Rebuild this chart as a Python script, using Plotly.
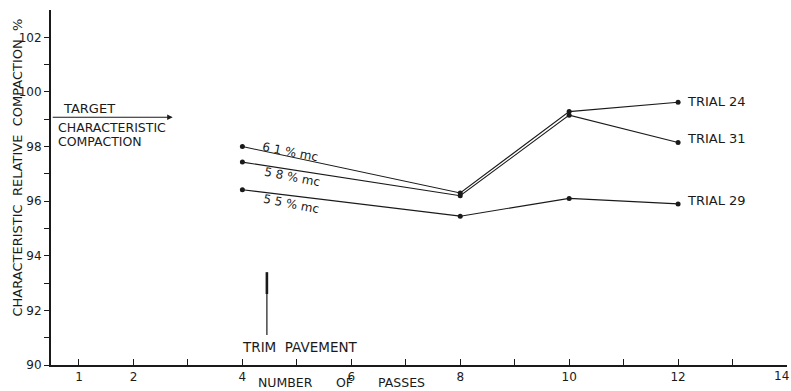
import plotly.graph_objects as go

passes = [4, 8, 10, 12]
trial_24 = [98.0, 96.3, 99.28, 99.62]
trial_31 = [97.43, 96.2, 99.15, 98.15]
trial_29 = [96.42, 95.45, 96.1, 95.9]

series = [("TRIAL 24", trial_24), ("TRIAL 31", trial_31), ("TRIAL 29", trial_29)]
mc_labels = ["6 1 % mc", "5 8 % mc", "5 5 % mc"]

x_tickvals = list(range(1, 15))
x_ticktext = ["1", "2", "", "4", "", "6", "", "8", "", "10", "", "12", "", "14"]
y_tickvals = list(range(90, 103))
y_ticktext = ["90", "", "92", "", "94", "", "96", "", "98", "", "100", "", "102"]

target_value = 99.07

INK = "#1a1a1a"
FONT = "DejaVu Sans"

# plot area in pixels (for paper-positioned texts)
L, R, T, B = 51, 4, 10, 26
W, H = 791, 391
PW, PH = W - L - R, H - T - B


def px(xp):
    return (xp - L) / PW


def py(yp):
    return (H - B - yp) / PH


fig = go.Figure()
for name, vals in series:
    fig.add_trace(go.Scatter(
        x=passes, y=vals, mode="lines+markers", name=name,
        line=dict(color=INK, width=1.1),
        marker=dict(color=INK, size=5),
        showlegend=False,
    ))

annotations = []
# the last x tick label sits flush with the right edge: draw it right-anchored
last_label = x_ticktext[-1]
shown_ticktext = x_ticktext[:-1] + [""]
annotations.append(dict(x=x_tickvals[-1], y=py(376), xref="x", yref="paper",
                        text=last_label, showarrow=False, xanchor="right", yanchor="middle",
                        xshift=4, font=dict(family=FONT, size=12, color=INK)))

# trial labels at the right end
trial_label_y = [99.65, 98.3, 96.03]
for (name, vals), ly in zip(series, trial_label_y):
    annotations.append(dict(x=12.13, y=ly, xref="x", yref="y", text=name,
                            showarrow=False, xanchor="left", yanchor="middle",
                            font=dict(family=FONT, size=13, color=INK)))
# moisture content labels along lines
mc_pos = [(4.875, 97.79), (4.91, 96.87), (4.89, 95.89)]
for lab, (mx, my) in zip(mc_labels, mc_pos):
    annotations.append(dict(x=mx, y=my, xref="x", yref="y", text=lab,
                            showarrow=False, textangle=11,
                            font=dict(family=FONT, size=12, color=INK)))
# target arrow
annotations.append(dict(x=2.72, y=target_value, ax=0.49, ay=target_value,
                        xref="x", yref="y", axref="x", ayref="y",
                        text="", showarrow=True, arrowhead=2, arrowsize=1,
                        arrowwidth=1.1, arrowcolor=INK))
annotations.append(dict(x=px(61), y=py(109), xref="paper", yref="paper", text="TARGET",
                        showarrow=False, xanchor="left", yanchor="middle",
                        font=dict(family=FONT, size=13, color=INK)))
annotations.append(dict(x=px(56), y=py(127), xref="paper", yref="paper",
                        text="CHARACTERISTIC",
                        showarrow=False, xanchor="left", yanchor="middle",
                        font=dict(family=FONT, size=12.5, color=INK)))
annotations.append(dict(x=px(56), y=py(142), xref="paper", yref="paper",
                        text="COMPACTION",
                        showarrow=False, xanchor="left", yanchor="middle",
                        font=dict(family=FONT, size=12.5, color=INK)))
# trim pavement
annotations.append(dict(x=px(240), y=py(347), xref="paper", yref="paper",
                        text="TRIM &nbsp;PAVEMENT",
                        showarrow=False, xanchor="left", yanchor="middle",
                        font=dict(family=FONT, size=13.5, color=INK)))
# x axis title (three spaced words as in the original)
for word, xp in [("NUMBER", 256), ("OF", 334), ("PASSES", 376)]:
    annotations.append(dict(x=px(xp), y=py(382.5), xref="paper", yref="paper",
                            text=word, showarrow=False, xanchor="left", yanchor="middle",
                            font=dict(family=FONT, size=12.5, color=INK)))
# y axis title
annotations.append(dict(x=px(17), y=py(167.5), xref="paper", yref="paper",
                        text="CHARACTERISTIC &nbsp;RELATIVE &nbsp;COMPACTION &nbsp;%",
                        showarrow=False, textangle=-90, xanchor="center", yanchor="middle",
                        font=dict(family=FONT, size=13, color=INK)))

shapes = [
    dict(type="line", xref="x", yref="y", x0=4.45, x1=4.45, y0=93.4, y1=92.6,
         line=dict(color=INK, width=2.6)),
    dict(type="line", xref="x", yref="y", x0=4.45, x1=4.45, y0=92.7, y1=91.1,
         line=dict(color=INK, width=1.2)),
]

fig.update_layout(
    width=W, height=H, autosize=False,
    margin=dict(l=L, r=R, t=T, b=B, autoexpand=False),
    paper_bgcolor="white", plot_bgcolor="white",
    annotations=annotations, shapes=shapes,
    font=dict(family=FONT, size=12, color=INK),
)
fig.update_xaxes(range=[0.486, 14.0], tickvals=x_tickvals, ticktext=shown_ticktext,
                 ticks="inside", ticklen=6, tickcolor=INK, tickwidth=1,
                 showline=True, linecolor=INK, linewidth=2, showgrid=False,
                 zeroline=False, tickfont=dict(family=FONT, size=12, color=INK))
fig.update_yaxes(range=[90, 103], tickvals=y_tickvals, ticktext=y_ticktext,
                 ticks="outside", ticklen=5, tickcolor=INK, tickwidth=1,
                 showline=True, linecolor=INK, linewidth=2, showgrid=False,
                 zeroline=False, tickfont=dict(family=FONT, size=12, color=INK))

fig.write_html(
    "out.html",
    config={"displayModeBar": False},
    post_script="document.body.style.margin='0';document.body.style.padding='0';document.body.style.overflow='hidden';",
)
